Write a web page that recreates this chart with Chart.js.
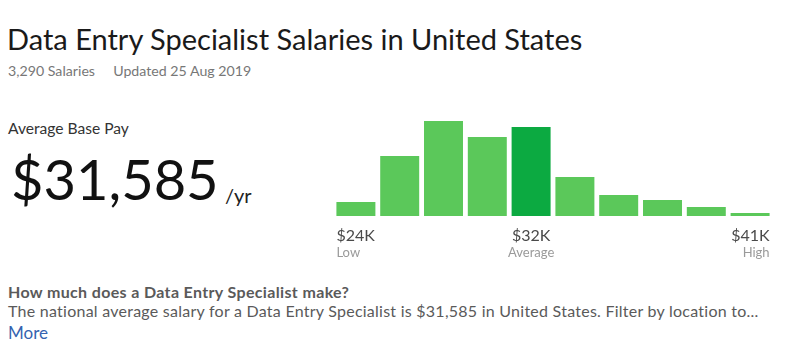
<!DOCTYPE html>
<html><head><meta charset="utf-8">
<script src="https://cdn.jsdelivr.net/npm/chart.js@4/dist/chart.umd.min.js"></script>
<style>
html,body{margin:0;padding:0;background:#fff;width:800px;height:351px;overflow:hidden;font-family:Lato,"Open Sans",sans-serif;}
.t{position:absolute;white-space:nowrap;}
#title{left:7px;top:21px;font-size:29px;color:#1a1a1a;}
#sub{left:8px;top:62px;font-size:14.2px;color:#777;}
#abp{left:8px;top:119px;font-size:15.6px;color:#333;}
#big{left:11px;top:145px;font-size:56px;color:#111;}
#yr{left:225px;top:183px;font-size:20px;color:#222;}
#q{left:8px;top:282px;font-size:16px;color:#5a5a5a;font-weight:bold;letter-spacing:0.35px;}
#desc{left:8px;top:301px;font-size:16px;color:#5a5a5a;letter-spacing:0.25px;}
#more{left:8px;top:322px;font-size:17px;color:#3563b0;}
#wrap{position:absolute;left:320px;top:100px;width:470px;height:170px;}
</style></head><body>
<div class="t" id="title">Data Entry Specialist Salaries in United States</div>
<div class="t" id="sub">3,290 Salaries&nbsp;&nbsp;&nbsp;&nbsp;&nbsp;Updated 25 Aug 2019</div>
<div class="t" id="abp">Average Base Pay</div>
<div class="t" id="big">$31,585</div>
<div class="t" id="yr">/yr</div>
<div class="t" id="q">How much does a Data Entry Specialist make?</div>
<div class="t" id="desc">The national average salary for a Data Entry Specialist is $31,585 in United States. Filter by location to...</div>
<div class="t" id="more">More</div>
<div id="wrap"><canvas id="c"></canvas></div>
<script>
const categories = ['b1','b2','b3','b4','b5','b6','b7','b8','b9','b10'];
const counts = [14, 60, 95, 79, 89, 39, 21, 16, 9, 3];
const averageIndex = 4;
const tickIndices = [0, 4, 9];
const tickLabels = ['$24K', '$32K', '$41K'];
const subLabels = ['Low', 'Average', 'High'];

const colors = counts.map((v,i)=> i===averageIndex ? '#0caa41' : '#5bc85a');

const labelPlugin = {
  id:'salaryLabels',
  afterDraw(chart){
    const ctx = chart.ctx;
    const meta = chart.getDatasetMeta(0);
    const bottom = chart.chartArea.bottom;
    ctx.save();
    ctx.textBaseline = 'alphabetic';
    tickIndices.forEach((idx,k)=>{
      const bar = meta.data[idx];
      const half = bar.width/2;
      let x, align;
      if (k===0){ x = bar.x - half; align='left'; }
      else if (k===tickIndices.length-1){ x = bar.x + half; align='right'; }
      else { x = bar.x; align='center'; }
      ctx.textAlign = align;
      ctx.font = '16px Lato, sans-serif';
      ctx.fillStyle = '#4a4a4a';
      ctx.fillText(tickLabels[k], x, bottom + 25);
      ctx.font = '13px Lato, sans-serif';
      ctx.fillStyle = '#9a9a9a';
      ctx.fillText(subLabels[k], x, bottom + 41);
    });
    ctx.restore();
  }
};

new Chart(document.getElementById('c'), {
  type:'bar',
  data:{labels:categories, datasets:[{data:counts, backgroundColor:colors, borderWidth:0, categoryPercentage:1.0, barPercentage:0.89}]},
  options:{
    responsive:true, maintainAspectRatio:false, animation:false,
    layout:{padding:{left:14,right:18,top:21,bottom:54}},
    plugins:{legend:{display:false}, tooltip:{enabled:false}},
    scales:{
      x:{display:false},
      y:{display:false, min:0, max:95}
    }
  },
  plugins:[labelPlugin]
});
</script>
</body></html>
